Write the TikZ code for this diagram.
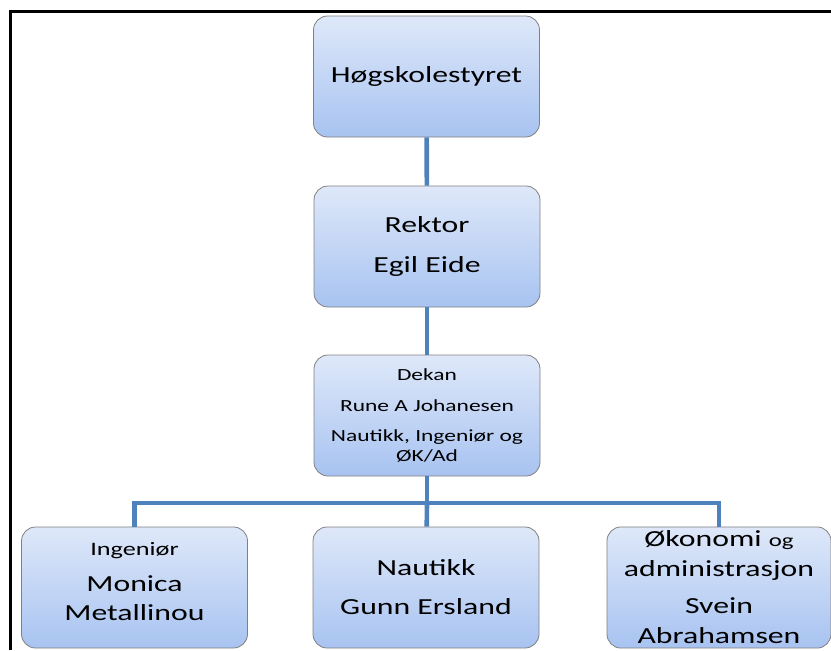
\documentclass[tikz,border=0pt]{standalone}
\usepackage{fontspec}
\setmainfont{Carlito}[FakeStretch=1.38]
\usepackage{tikz}
\definecolor{linkblue}{HTML}{4F81BD}
\definecolor{boxtop}{HTML}{DEE8F9}
\definecolor{boxbot}{HTML}{A8C3F1}
\tikzstyle{org}=[line width=2.3pt,draw=linkblue]
\tikzstyle{unit}=[rectangle,rounded corners=7pt,draw=black!50,top color=boxtop,bottom color=boxbot,
  minimum width=113pt,minimum height=60.5pt,align=center,inner sep=2pt,
  font=\fontsize{11.5}{14.5}\selectfont]
\tikzstyle{frame}=[line width=1.5pt,draw=black]

\begin{document}
\begin{tikzpicture}[x=0.5pt,y=-0.5pt]
				\useasboundingbox (0,0) rectangle (831,650);
				%The frame
				\draw[frame] (10,650) -- (10,11) -- (831,11);
				
				%The top of the chart
				\draw (426.5,76.5) node[unit] (styre) {Høgskolestyret};
				\draw (427,246.5) node[unit,font=\fontsize{11.5}{20}\selectfont] (rektor) {Rektor\\Egil Eide};
				\draw (427,415.5) node[unit,font=\fontsize{8.5}{10}\selectfont] (dekan) {Dekan\\[5.5pt]Rune A Johanesen\\[5pt]Nautikk, Ingeniør og\\ØK/Ad};
				
				%The departments
				\draw (134.5,587.5) node[unit] (ing) {{\fontsize{9.5}{11}\selectfont Ingeniør}\\[3.5pt]Monica\\Metallinou\\[-8.5pt]\mbox{}};
				\draw (426,587.5) node[unit,font=\fontsize{11.5}{19.5}\selectfont] (naut) {Nautikk\\Gunn Ersland};
				\draw (719,587.5) node[unit,minimum width=112pt,font=\fontsize{11.5}{15}\selectfont] (oko) {Økonomi {\fontsize{9}{10}\selectfont og}\\administrasjon\\[3.5pt]Svein\\Abrahamsen};
				
				\coordinate (bus) at (427,503);
				
				\draw[org] (styre) -- (rektor);
				\draw[org] (rektor) -- (dekan);
				\draw[org] (dekan) -- (bus);
				\draw[org] (bus) -| (ing);
				\draw[org] (bus) -| (oko);
				\draw[org] (bus) -- (naut);
			\end{tikzpicture}
\end{document}
